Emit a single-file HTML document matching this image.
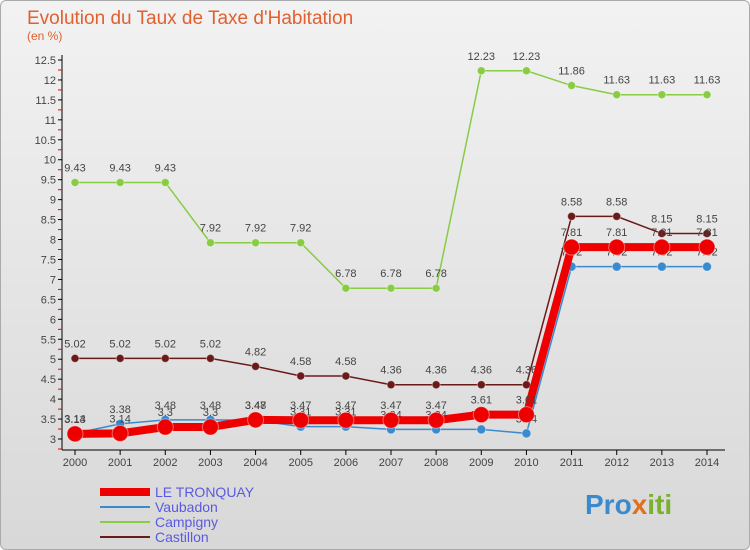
<!DOCTYPE html>
<html><head><meta charset="utf-8"><style>
body{margin:0;width:750px;height:550px;overflow:hidden;font-family:"Liberation Sans",sans-serif}
#bg{position:absolute;left:0;top:0;width:748px;height:548px;border:1px solid #aaa;border-radius:6px;background:linear-gradient(#f2f2f2,#d8d8d8)}
</style></head><body>
<div id="bg"></div>
<svg id="c" width="750" height="550" style="position:absolute;left:0;top:0" font-family="Liberation Sans, sans-serif">
<text x="27" y="24" font-size="19" fill="#e06030">Evolution du Taux de Taxe d'Habitation</text>
<text x="27" y="40" font-size="12" fill="#e06030">(en %)</text>
<g id="ax"></g><g id="series"></g>
<text x="585" y="514" font-size="28" font-weight="bold" fill="#3a8ad0">Pro<tspan fill="#e07020">x</tspan><tspan fill="#7ab030">iti</tspan></text>
</svg>
<script>
const years=[2000,2001,2002,2003,2004,2005,2006,2007,2008,2009,2010,2011,2012,2013,2014];
const tronquay=[3.13,3.14,3.3,3.3,3.48,3.47,3.47,3.47,3.47,3.61,3.61,7.81,7.81,7.81,7.81];
const vaubadon=[3.14,3.38,3.48,3.48,3.47,3.31,3.31,3.24,3.24,3.24,3.14,7.32,7.32,7.32,7.32];
const campigny=[9.43,9.43,9.43,7.92,7.92,7.92,6.78,6.78,6.78,12.23,12.23,11.86,11.63,11.63,11.63];
const castillon=[5.02,5.02,5.02,5.02,4.82,4.58,4.58,4.36,4.36,4.36,4.36,8.58,8.58,8.15,8.15];
const yTicks=[3,3.5,4,4.5,5,5.5,6,6.5,7,7.5,8,8.5,9,9.5,10,10.5,11,11.5,12,12.5];
const ns="http://www.w3.org/2000/svg";
const X=i=>75+i*(707-75)/(years.length-1);
const Y=v=>439-(v-3)*(379/9.5);
function mk(t,a,p){const e=document.createElementNS(ns,t);for(const k in a)e.setAttribute(k,a[k]);p.appendChild(e);return e;}
const ax=document.getElementById('ax');
const yl=mk('line',{x1:62,y1:55,x2:62,y2:450,stroke:'#000'},ax);


const xl=mk('line',{x1:62,y1:450,x2:725,y2:450,stroke:'#000'},ax);


yTicks.forEach(v=>{const y=Y(v);mk('line',{x1:58,y1:y,x2:62,y2:y,stroke:'#000'},ax);
mk('line',{x1:58,y1:y+10,x2:62,y2:y+10,stroke:'#e00'},ax);
const t=mk('text',{x:56,y:y+4,'font-size':11,'text-anchor':'end',fill:'#444'},ax);t.textContent=String(v);

});
years.forEach((yr,i)=>{const x=X(i);mk('line',{x1:x,y1:450,x2:x,y2:455,stroke:'#000'},ax);
const t=mk('text',{x:x,y:466,'font-size':11,'text-anchor':'middle',fill:'#444'},ax);t.textContent=yr;

});
const sg=document.getElementById('series');
function series(d,color,w,r,name,lblDy){
const g=mk('g',{},sg);


mk('polyline',{points:d.map((v,i)=>X(i)+','+Y(v)).join(' '),fill:'none',stroke:color,'stroke-width':w},g);
d.forEach((v,i)=>{const c=mk('circle',{cx:X(i),cy:Y(v),r:r,fill:color,stroke:'#fff','stroke-opacity':0.4},g);


const t=mk('text',{x:X(i),y:Y(v)+lblDy,'font-size':11,'text-anchor':'middle',fill:'#444'},g);t.textContent=String(v);});}
series(campigny,'#88cc44',1.5,4,'campigny',-11);
series(castillon,'#6b1a1a',1.5,4,'castillon',-11);
series(vaubadon,'#3a8ad0',1.5,4.5,'vaubadon',-11);
series(tronquay,'#ee0000',8,8,'le-tronquay',-11);
const leg=[['LE TRONQUAY','#ee0000',8,497],['Vaubadon','#3a8ad0',2,512],['Campigny','#88cc44',2,527],['Castillon','#6b1a1a',2,542]];
leg.forEach(l=>{const g=mk('g',{},document.getElementById('c'));


mk('line',{x1:100,y1:l[3]-5,x2:150,y2:l[3]-5,stroke:l[1],'stroke-width':l[2]},g);
const t=mk('text',{x:155,y:l[3],'font-size':14,fill:'#5a5ae0'},g);t.textContent=l[0];});
</script>
</body></html>
